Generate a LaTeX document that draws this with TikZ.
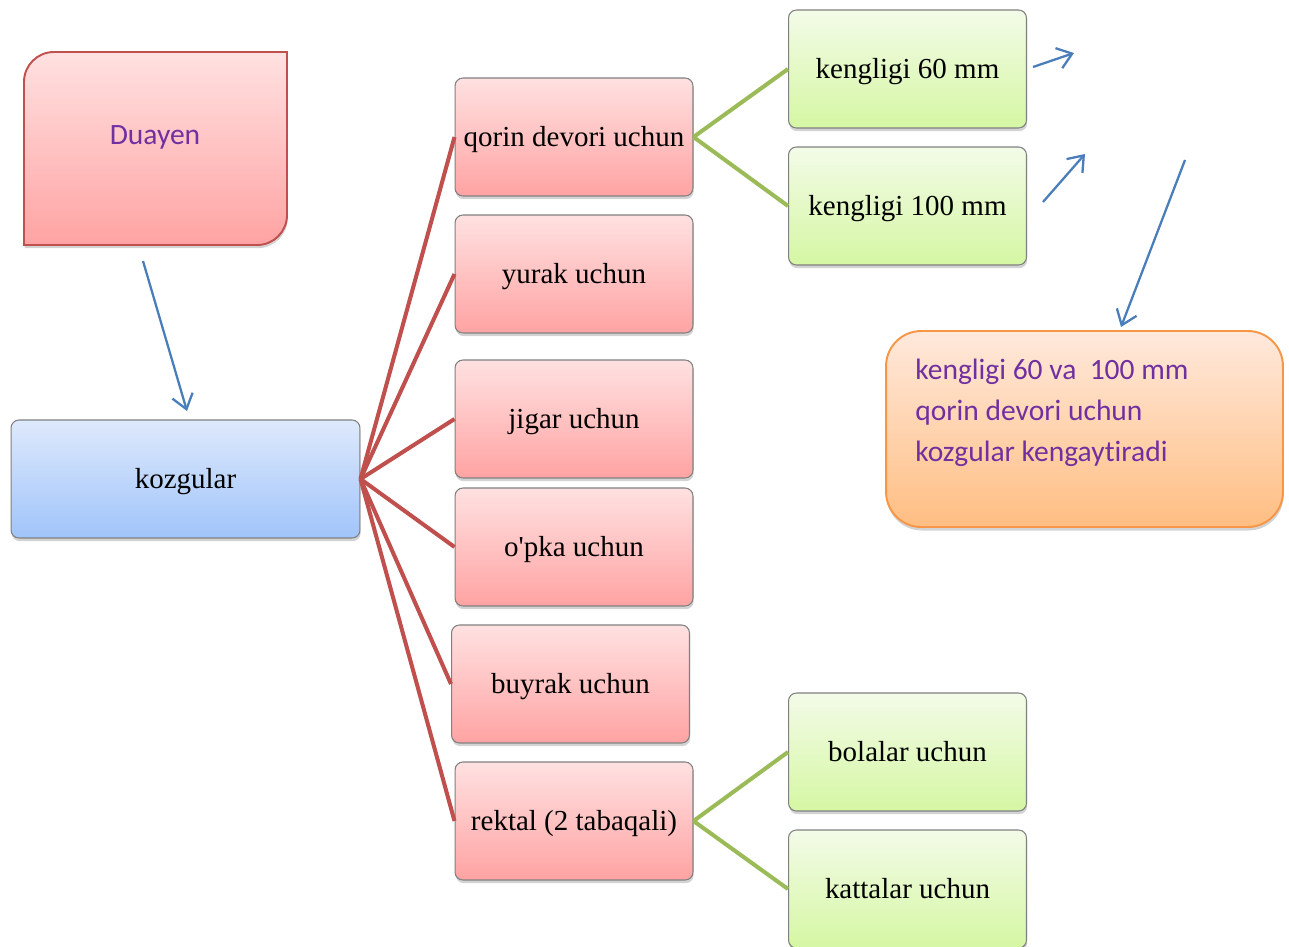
\documentclass[tikz,border=0pt]{standalone}
\usepackage{fontspec}
\setmainfont{Liberation Serif}
\newfontfamily\calibri[Ligatures={NoCommon}]{Carlito}
\usetikzlibrary{arrows.meta, shadows}

\definecolor{pinktop}{RGB}{255,225,225}
\definecolor{pinkbot}{RGB}{255,163,163}
\definecolor{bluetop}{RGB}{222,233,252}
\definecolor{bluebot}{RGB}{160,196,250}
\definecolor{greentop}{RGB}{243,251,232}
\definecolor{greenbot}{RGB}{213,247,163}
\definecolor{orangetop}{RGB}{255,233,220}
\definecolor{orangebot}{RGB}{255,190,130}
\definecolor{orangeline}{RGB}{247,150,70}
\definecolor{redline}{RGB}{192,80,77}
\definecolor{greenline}{RGB}{155,187,89}
\definecolor{arrowblue}{RGB}{74,126,187}
\definecolor{violet}{RGB}{112,48,160}

\begin{document}
\begin{tikzpicture}[x=0.02cm, y=-0.02cm,
    box/.style = {rounded corners=4.5pt, draw=black!50, line width=0.6pt,
        inner sep=0pt, minimum width=4.76cm, minimum height=2.36cm,
        text height=13pt, text depth=1.9pt,
        font=\fontsize{16.5}{20}\selectfont,
        drop shadow={shadow xshift=0.4pt, shadow yshift=-1.8pt, opacity=0.35}},
    organ/.style = {box, top color=pinktop, bottom color=pinkbot},
    width/.style = {box, top color=greentop, bottom color=greenbot},
    main/.style = {box, top color=bluetop, bottom color=bluebot,
        minimum width=6.98cm},
    note/.style = {rounded corners=20pt, draw=orangeline, line width=1.1pt,
        top color=orangetop, bottom color=orangebot,
        minimum width=7.94cm, minimum height=3.92cm,
        drop shadow={shadow xshift=0.4pt, shadow yshift=-2pt, opacity=0.35}},
    purple text/.style = {text=violet, inner sep=0pt,
        font=\calibri\fontsize{16.8}{23.2}\selectfont},
    branch/.style = {draw=redline, line width=2.3pt},
    leaf/.style = {draw=greenline, line width=2.3pt},
    pointer/.style = {draw=arrowblue, line width=1.3pt,
        -{Straight Barb[length=8pt, width=12pt, line width=1.3pt]}}]
    \useasboundingbox (0,0) rectangle (1289,947);

    % Duayen
    \path [draw=redline, line width=1.1pt, top color=pinktop, bottom color=pinkbot,
        drop shadow={shadow xshift=0.4pt, shadow yshift=-1.8pt, opacity=0.35}]
        (24,245) [rounded corners=17pt] -- (24,52) [sharp corners] -- (287,52)
        [rounded corners=17pt] -- (287,245) [sharp corners] -- cycle;
    \node (duayen) [purple text] at (155,137) {Duayen};

    \node (kozgular) [main] at (185.5,479) {kozgular};

    \node (qorin) [organ] at (574,137) {qorin devori uchun};
    \node (yurak) [organ] at (574,274) {yurak uchun};
    \node (jigar) [organ] at (574,419) {jigar uchun};
    \node (opka) [organ] at (574,547) {o\textquotesingle pka uchun};
    \node (buyrak) [organ] at (570.5,684) {buyrak uchun};
    \node (rektal) [organ] at (574,821) {rektal (2 tabaqali)};

    \node (k60) [width] at (907.5,69) {kengligi 60 mm};
    \node (k100) [width] at (907.5,206) {kengligi 100 mm};
    \node (bolalar) [width] at (907.5,752) {bolalar uchun};
    \node (kattalar) [width] at (907.5,889) {kattalar uchun};

    \node (note) [note] at (1084.5,429) {};
    \node (notetext) [purple text, anchor=west, align=left] at (915,413)
        {kengligi 60 va\ \ 100 mm\\qorin devori uchun\\kozgular kengaytiradi};

    \path [branch]
        (kozgular.east) edge (qorin.west)
        (kozgular.east) edge (yurak.west)
        (kozgular.east) edge (jigar.west)
        (kozgular.east) edge (opka.west)
        (kozgular.east) edge (buyrak.west)
        (kozgular.east) edge (rektal.west);
    \path [leaf]
        (qorin.east) edge (k60.west)
        (qorin.east) edge (k100.west)
        (rektal.east) edge (bolalar.west)
        (rektal.east) edge (kattalar.west);

    % blue arrows
    \coordinate (a1) at (143,261);
    \coordinate (b1) at (187,411);
    \coordinate (a2) at (1033,67);
    \coordinate (b2) at (1074,53);
    \coordinate (a3) at (1043,202);
    \coordinate (b3) at (1085,154);
    \coordinate (a4) at (1185,160);
    \coordinate (b4) at (1121,327);
    \draw [pointer] (a1) -- (b1);
    \draw [pointer] (a2) -- (b2);
    \draw [pointer] (a3) -- (b3);
    \draw [pointer] (a4) -- (b4);
\end{tikzpicture}
\end{document}
